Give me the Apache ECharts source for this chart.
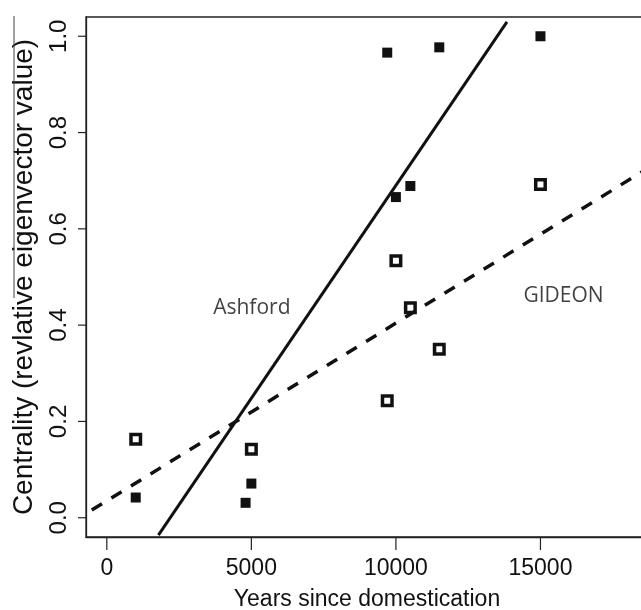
<!DOCTYPE html>
<html>
<head>
<meta charset="utf-8">
<script src="https://cdn.jsdelivr.net/npm/echarts@6/dist/echarts.min.js"></script>
<style>
html, body { margin: 0; padding: 0; background: #fff; }
#main { width: 641px; height: 610px; }
</style>
</head>
<body>
<div id="main"></div>
<script>
const xTicks = [0, 5000, 10000, 15000];
const yTicks = [0, 0.2, 0.4, 0.6, 0.8, 1.0];

const ashfordYears = [1000, 4800, 5000, 9700, 10000, 10500, 11500, 15000];
const ashfordCentrality = [0.042, 0.031, 0.071, 0.966, 0.666, 0.689, 0.977, 1.0];
const gideonYears = [1000, 5000, 9700, 10000, 10500, 11500, 15000];
const gideonCentrality = [0.163, 0.142, 0.243, 0.534, 0.436, 0.350, 0.692];

// fitted lines: end points
const ashfordFit = [[1785, -0.036], [13841, 1.03]];
const gideonFit = [[-520, 0.016], [18720, 0.726]];

const labelNames = ["Ashford", "GIDEON"];
const labelYears = [5017, 15800];
const labelCentrality = [0.435, 0.46];

const xMin = -720, xMax = 18720;
const yMin = -0.04, yMax = 1.04;
const ink = "#111";

var myChart = echarts.init(document.getElementById("main"));

const options = {
  animation: false,
  textStyle: { fontFamily: "Liberation Sans, Arial, sans-serif", color: ink },
  grid: {
    left: 86, top: 17, right: -7, bottom: 73,
    show: true, borderColor: "#222", borderWidth: 1.3,
    containLabel: false, outerBoundsMode: "none"
  },
  xAxis: {
    type: "value",
    min: xMin,
    max: xMax,
    axisLine: { show: true, onZero: false, lineStyle: { color: "#222", width: 1.3 } },
    axisTick: { show: false },
    axisLabel: {
      customValues: xTicks, fontSize: 23, margin: 20, color: ink,
      formatter: (v) => String(v)
    },
    splitLine: { show: false },
    name: "Years since domestication",
    nameLocation: "middle",
    nameGap: 51,
    nameTextStyle: { fontSize: 23, color: ink }
  },
  yAxis: {
    type: "value",
    min: yMin,
    max: yMax,
    axisLine: { show: true, onZero: false, lineStyle: { color: "#222", width: 1.3 } },
    axisTick: { show: false },
    axisLabel: {
      customValues: yTicks, rotate: 90, fontSize: 24, margin: 15, color: ink,
      formatter: (v) => v.toFixed(1)
    },
    splitLine: { show: false },
    name: "Centrality (revlative eigenvector value)",
    nameLocation: "middle",
    nameRotate: 90,
    nameGap: 48,
    nameTextStyle: { fontSize: 28, color: ink }
  },
  graphic: [
    { type: "line", z: 100, shape: { x1: 14, y1: 16, x2: 14, y2: 298 }, style: { stroke: "#444", lineWidth: 1 } }
  ],
  series: [
    {
      name: "Ashford fit", type: "line", data: ashfordFit, symbol: "none", silent: true,
      lineStyle: { color: ink, width: 3 }
    },
    {
      name: "GIDEON fit", type: "line", data: gideonFit, symbol: "none", silent: true,
      lineStyle: { color: ink, width: 3.5, type: [12, 11], cap: "butt" }
    },
    {
      name: "Ashford", type: "scatter", symbol: "rect", symbolSize: 10,
      data: ashfordYears.map((x, i) => [x, ashfordCentrality[i]]),
      itemStyle: { color: ink, opacity: 1 }
    },
    {
      name: "GIDEON", type: "scatter", symbol: "rect", symbolSize: 9.5,
      data: gideonYears.map((x, i) => [x, gideonCentrality[i]]),
      itemStyle: { color: "#fff", borderColor: ink, borderWidth: 3.5, opacity: 1 }
    },
    {
      name: "labels", type: "scatter", symbolSize: 0, silent: true,
      data: labelNames.map((n, i) => [labelYears[i], labelCentrality[i], n]),
      label: {
        show: true, position: "inside", formatter: (p) => p.data[2],
        fontFamily: "Open Sans", fontSize: 21, color: ink
      }
    }
  ]
};

myChart.setOption(options);

// R-style outward tick marks, positioned through the grid's own scales
const tickStyle = { stroke: "#222", lineWidth: 1.2 };
const tickGraphics = [];
xTicks.forEach((v) => {
  const p = myChart.convertToPixel({ gridIndex: 0 }, [v, yMin]);
  tickGraphics.push({ type: "line", z: 100, shape: { x1: p[0], y1: p[1], x2: p[0], y2: p[1] + 13 }, style: tickStyle });
});
yTicks.forEach((v) => {
  const p = myChart.convertToPixel({ gridIndex: 0 }, [xMin, v]);
  tickGraphics.push({ type: "line", z: 100, shape: { x1: p[0] - 8, y1: p[1], x2: p[0], y2: p[1] }, style: tickStyle });
});
myChart.setOption({ graphic: options.graphic.concat(tickGraphics) });
</script>
</body>
</html>
